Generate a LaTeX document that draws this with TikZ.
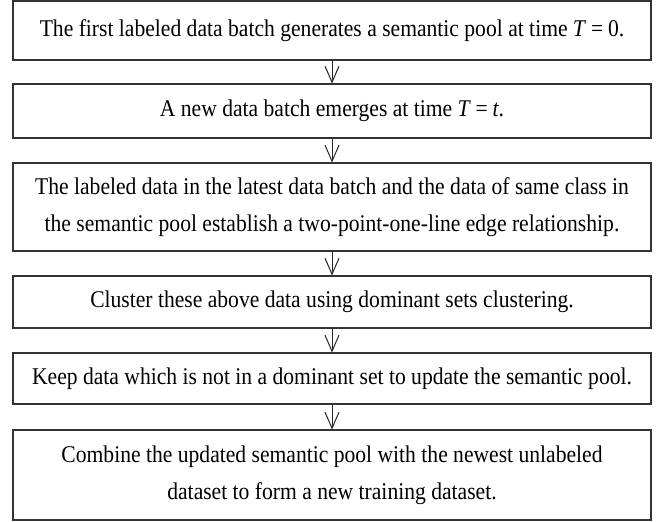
\documentclass[tikz,border=0pt]{standalone}
\usepackage{fontspec}
\setmainfont[FakeStretch=0.9]{Liberation Serif}
\usetikzlibrary{arrows.meta}
\begin{document}
\begin{tikzpicture}[x=1pt,y=1pt,
  stepbox/.style={draw=black!80, line width=1.1pt, minimum width=638pt, inner sep=0pt,
    align=center, font=\fontsize{24}{37}\selectfont, anchor=center},
  flow/.style={draw=black!85, line width=1pt, -{Straight Barb[length=16pt,width=14pt,line width=1pt]}}]
\useasboundingbox (0,0) rectangle (667,-522);
\node[stepbox, minimum height=59pt] (b1) at (332,-30.5)
  {The first labeled data batch generates a semantic pool at time \textit{T}\hspace{0.2em}=\hspace{0.2em}0.};
\node[stepbox, minimum height=54pt] (b2) at (332,-111)
  {A new data batch emerges at time \textit{T}\hspace{0.2em}=\hspace{0.2em}\textit{t}.};
\node[stepbox, minimum height=88pt] (b3) at (332,-207)
  {The labeled data in the latest data batch and the data of same class in\\the semantic pool establish a two-point-one-line edge relationship.};
\node[stepbox, minimum height=52pt] (b4) at (332,-302)
  {Cluster these above data using dominant sets clustering.};
\node[stepbox, minimum height=51pt] (b5) at (332,-378.5)
  {Keep data which is not in a dominant set to update the semantic pool.};
\node[stepbox, minimum height=90pt] (b6) at (332,-475)
  {Combine the updated semantic pool with the newest unlabeled\\dataset to form a new training dataset.};
\draw[flow] (b1) -- (b2);
\draw[flow] (b2) -- (b3);
\draw[flow] (b3) -- (b4);
\draw[flow] (b4) -- (b5);
\draw[flow] (b5) -- (b6);
\end{tikzpicture}
\end{document}
